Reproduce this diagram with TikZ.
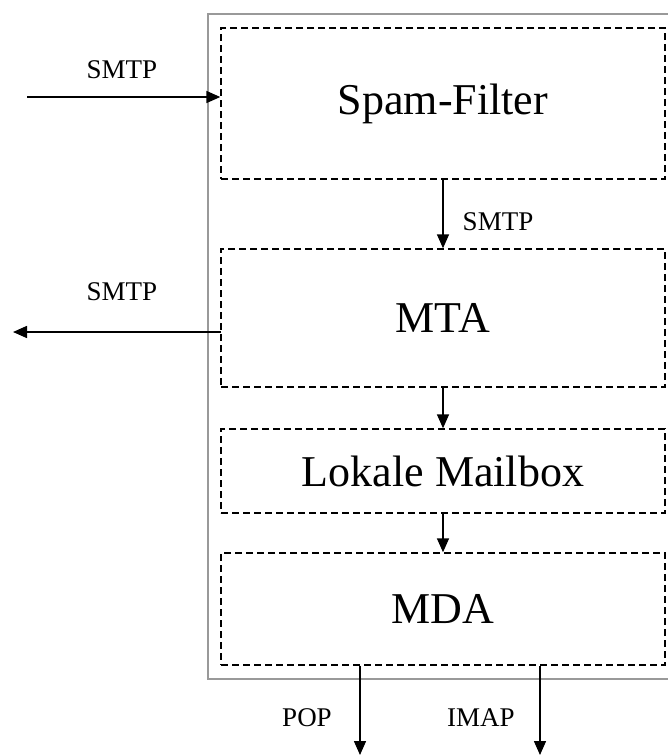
\documentclass[tikz,border=0pt]{standalone}
\usepackage{fontspec}
\setmainfont{Liberation Serif}
\usetikzlibrary{arrows.meta}
\tikzset{
  stage/.style={draw=black, line width=1.4pt, dash pattern=on 7pt off 4pt,
    inner sep=0pt, minimum width=444pt, font=\fontsize{44}{50}\selectfont},
  host/.style={draw=black!40, line width=1.6pt, inner sep=0pt},
  flow/.style={draw=black, line width=1.5pt, -{Triangle[length=14pt,width=12pt]}},
  proto/.style={font=\fontsize{27}{30}\selectfont, inner sep=0pt}
}
\begin{document}
\begin{tikzpicture}[x=1pt, y=-1pt]
  \useasboundingbox (0,0) rectangle (667,755);
  % server enclosing all stages
  \node[host, minimum width=468pt, minimum height=665pt, anchor=north west] (server) at (207,13) {};
  % processing stages
  \node[stage, minimum height=151pt] (spam) at (443,103.5) {Spam-Filter};
  \node[stage, minimum height=138pt] (mta) at (443,318) {MTA};
  \node[stage, minimum height=84pt] (mbox) at (443,471) {Lokale Mailbox};
  \node[stage, minimum height=112pt] (mda) at (443,609) {MDA};
  % incoming and outgoing mail
  \coordinate (inmail) at (27,97);
  \coordinate (outstart) at (221,332);
  \coordinate (outmail) at (13,332);
  \coordinate (popend) at (360,755);
  \coordinate (imapend) at (540,755);
  \draw[flow] (inmail) -- (spam.west |- inmail);
  \draw[flow] (outstart) -- (outmail);
  \draw[flow] (spam.south) -- (mta.north);
  \draw[flow] (mta.south) -- (mbox.north);
  \draw[flow] (mbox.south) -- (mda.north);
  \draw[flow] (mda.south -| popend) -- (popend);
  \draw[flow] (mda.south -| imapend) -- (imapend);
  % protocol labels
  \node[proto] (lin) at (122,70) {SMTP};
  \node[proto] (lout) at (122,292) {SMTP};
  \node[proto] (lmid) at (498,222) {SMTP};
  \node[proto] (lpop) at (307,718) {POP};
  \node[proto] (limap) at (481,718) {IMAP};
\end{tikzpicture}
\end{document}
